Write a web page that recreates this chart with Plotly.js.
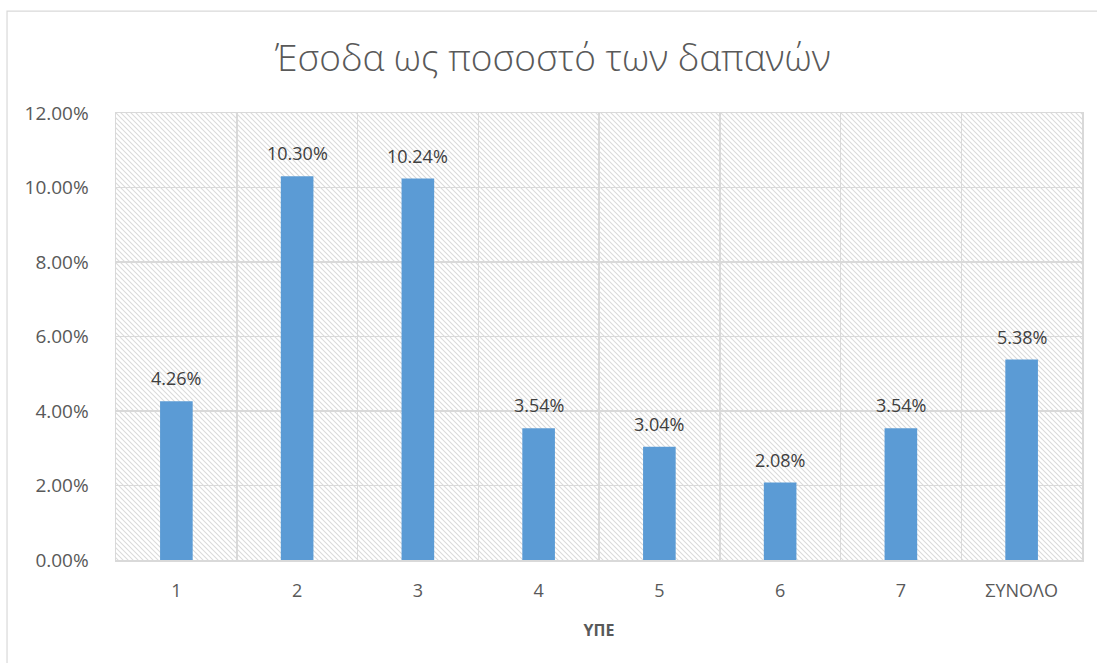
<!DOCTYPE html>
<html>
<head>
<meta charset="utf-8">
<script src="https://cdn.plot.ly/plotly-3.0.1.min.js"></script>
<style>html,body{margin:0;padding:0;background:#fff;}#chart{width:1097px;height:663px;}</style>
</head>
<body>
<div id="chart"></div>
<script>
const categories = ['1', '2', '3', '4', '5', '6', '7', 'ΣΥΝΟΛΟ'];
const values = [0.0426, 0.1030, 0.1024, 0.0354, 0.0304, 0.0208, 0.0354, 0.0538];
const yTickValues = [0, 0.02, 0.04, 0.06, 0.08, 0.10, 0.12];
const titleText = 'Έσοδα ως ποσοστό των δαπανών';
const xTitle = 'ΥΠΕ';

const hatch = 'data:image/svg+xml;utf8,' + encodeURIComponent(
  '<svg xmlns="http://www.w3.org/2000/svg" width="966" height="447">' +
  '<defs><pattern id="p" width="5" height="5" patternUnits="userSpaceOnUse">' +
  '<path d="M-1,-1 L6,6" stroke="#dadada" stroke-width="1.1"/>' +
  '<path d="M-6,-1 L1,6" stroke="#dadada" stroke-width="1.1"/>' +
  '<path d="M4,-1 L11,6" stroke="#dadada" stroke-width="1.1"/>' +
  '</pattern></defs><rect width="966" height="447" fill="url(#p)"/></svg>');

const trace = {
  type: 'bar',
  x: categories,
  y: values,
  width: 0.27,
  marker: {color: '#5b9bd5'},
  hoverinfo: 'x+y'
};

// category axis positions are the category indices
const labelAnnotations = categories.map((c, i) => ({
  x: i, y: values[i], xref: 'x', yref: 'y',
  text: (values[i] * 100).toFixed(2) + '%',
  showarrow: false,
  yanchor: 'bottom',
  yshift: 9,
  font: {family: 'Open Sans, sans-serif', size: 18, color: '#404040'}
}));

const layout = {
  width: 1097,
  height: 663,
  margin: {l: 116, r: 15, t: 113, b: 103},
  paper_bgcolor: '#ffffff',
  plot_bgcolor: 'rgba(0,0,0,0)',
  showlegend: false,
  title: {
    text: titleText,
    font: {family: 'Open Sans, sans-serif', size: 37, color: '#595959', weight: 300},
    x: 0.504, xanchor: 'center',
    y: 0.912, yanchor: 'middle'
  },
  xaxis: {
    type: 'category',
    tickson: 'boundaries',
    showgrid: true,
    gridcolor: '#d9d9d9',
    gridwidth: 1.5,
    showline: true,
    linecolor: '#d9d9d9',
    linewidth: 1.5,
    mirror: true,
    ticks: '',
    tickfont: {family: 'Open Sans, sans-serif', size: 18, color: '#595959'},
    ticklabelstandoff: 14,
    title: {text: xTitle, font: {family: 'Open Sans, sans-serif', size: 16, color: '#595959', weight: 'bold'}, standoff: 23}
  },
  yaxis: {
    range: [0, 0.12],
    tickvals: yTickValues,
    tickformat: '.2%',
    showgrid: true,
    gridcolor: '#d9d9d9',
    gridwidth: 1.5,
    showline: true,
    linecolor: '#d9d9d9',
    linewidth: 1.5,
    mirror: true,
    zeroline: false,
    ticks: '',
    ticklabelstandoff: 22,
    tickfont: {family: 'Open Sans, sans-serif', size: 19, color: '#595959'}
  },
  annotations: labelAnnotations,
  images: [{
    source: hatch,
    xref: 'x domain', yref: 'y domain',
    x: 0, y: 1, sizex: 1, sizey: 1,
    xanchor: 'left', yanchor: 'top',
    sizing: 'stretch',
    layer: 'below'
  }],
  shapes: [{
    type: 'rect', xref: 'paper', yref: 'paper',
    x0: -0.1128, x1: 1.1, y0: -0.26, y1: 1.228,
    line: {color: '#d9d9d9', width: 1.2},
    fillcolor: 'rgba(0,0,0,0)',
    layer: 'below'
  }]
};

Plotly.newPlot('chart', [trace], layout, {displayModeBar: false, staticPlot: true});
</script>
</body>
</html>
